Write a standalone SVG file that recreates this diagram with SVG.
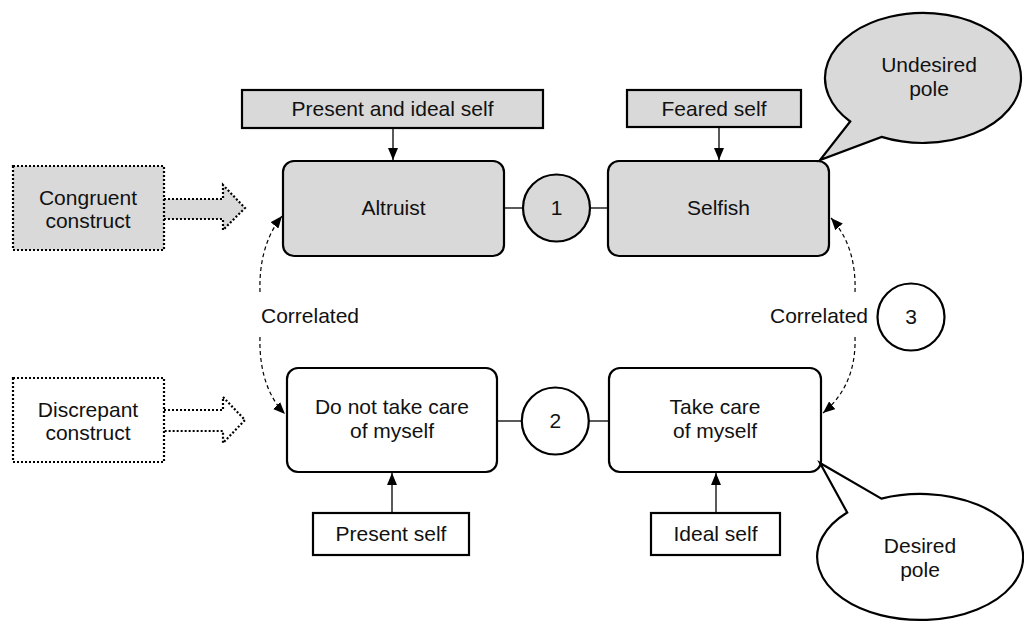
<svg xmlns="http://www.w3.org/2000/svg" width="1024" height="622" viewBox="0 0 1024 622">
<style>
  text { font-family: "Liberation Sans", Arial, sans-serif; font-size: 21px; fill: #111; text-anchor: middle; }
  .box { stroke: #000; stroke-width: 2.2; }
  .gray { fill: #d9d9d9; }
  .white { fill: #fff; }
  .dot { stroke: #000; stroke-width: 2.2; stroke-dasharray: 2 2; }
  .line { stroke: #000; stroke-width: 1.3; fill: none; }
  .dash { stroke: #000; stroke-width: 1.2; fill: none; stroke-dasharray: 4 3; }
</style>
<defs>
  <marker id="ah" viewBox="0 0 12 10" refX="12" refY="5" markerWidth="12" markerHeight="10" markerUnits="userSpaceOnUse" orient="auto">
    <path d="M0,0 L12,5 L0,10 Z" fill="#000"/>
  </marker>
</defs>
<rect width="1024" height="622" fill="#fff"/>

<g id="connectors">
  <line class="line" x1="393" y1="128" x2="393" y2="160" marker-end="url(#ah)"/>
  <line class="line" x1="719" y1="127" x2="719" y2="160" marker-end="url(#ah)"/>
  <line class="line" x1="392" y1="513" x2="392" y2="473" marker-end="url(#ah)"/>
  <line class="line" x1="716" y1="513" x2="716" y2="473" marker-end="url(#ah)"/>
  <line class="line" x1="504" y1="208" x2="523" y2="208"/>
  <line class="line" x1="590" y1="208" x2="608" y2="208"/>
  <line class="line" x1="497" y1="421" x2="521" y2="421"/>
  <line class="line" x1="589" y1="421" x2="609" y2="421"/>
  <path class="dash" d="M260,292 C259,262 266,236 282,216" marker-end="url(#ah)"/>
  <path class="dash" d="M260,337 C259,368 267,396 285,414" marker-end="url(#ah)"/>
  <path class="dash" d="M855,292 C856,263 849,238 831,218" marker-end="url(#ah)"/>
  <path class="dash" d="M855,337 C856,368 846,394 823,413" marker-end="url(#ah)"/>
</g>

<g id="congruent">
  <path class="dot gray" d="M164,199 L223,199 L223,185 L245,208 L223,230 L223,219 L164,219"/>
  <rect class="dot gray" x="13" y="166" width="151" height="84"/>
  <text x="88" y="205">Congruent</text>
  <text x="88" y="228">construct</text>
</g>

<g id="discrepant">
  <path class="dot white" d="M164,410 L223,410 L223,397 L245,420 L223,443 L223,431 L164,431"/>
  <rect class="dot white" x="13" y="378" width="151" height="84"/>
  <text x="88" y="417">Discrepant</text>
  <text x="88" y="440">construct</text>
</g>

<g id="present-ideal">
  <rect class="box gray" x="242" y="90" width="301" height="38"/>
  <text x="392.5" y="116">Present and ideal self</text>
</g>

<g id="feared">
  <rect class="box gray" x="627" y="90" width="174" height="37"/>
  <text x="714" y="116">Feared self</text>
</g>

<g id="altruist">
  <rect class="box gray" x="283" y="161" width="221" height="95" rx="11"/>
  <text x="393.5" y="215">Altruist</text>
</g>

<g id="selfish">
  <rect class="box gray" x="608" y="161" width="221" height="95" rx="11"/>
  <text x="718.5" y="215">Selfish</text>
</g>

<g id="c1">
  <circle class="box gray" cx="556.5" cy="208" r="33.5"/>
  <text x="556.5" y="215">1</text>
</g>

<g id="donot">
  <rect class="box white" x="287" y="368" width="210" height="104" rx="11"/>
  <text x="392" y="414">Do not take care</text>
  <text x="392" y="438">of myself</text>
</g>

<g id="takecare">
  <rect class="box white" x="609" y="368" width="212" height="104" rx="11"/>
  <text x="715" y="414">Take care</text>
  <text x="715" y="438">of myself</text>
</g>

<g id="c2">
  <circle class="box white" cx="555.3" cy="421" r="33.5"/>
  <text x="555.3" y="428">2</text>
</g>

<g id="c3">
  <circle class="box white" cx="911" cy="317" r="33.5"/>
  <text x="911" y="324">3</text>
</g>

<g id="present">
  <rect class="box white" x="313" y="513" width="156" height="42"/>
  <text x="391" y="541">Present self</text>
</g>

<g id="ideal">
  <rect class="box white" x="651" y="513" width="129" height="42"/>
  <text x="715.5" y="541">Ideal self</text>
</g>

<g id="labels">
  <text x="310" y="323">Correlated</text>
  <text x="819" y="323">Correlated</text>
</g>

<g id="undesired">
  <path class="box gray" d="M850.2,121.5 L820,160 L881.6,136.9 A98,65 0 1 0 850.2,121.5 Z"/>
  <text x="929" y="72">Undesired</text>
  <text x="929" y="96">pole</text>
</g>

<g id="desired">
  <path class="box white" d="M847.2,512.5 L820,463 L881.4,498.6 A103,63 0 1 1 847.2,512.5 Z"/>
  <text x="920" y="553">Desired</text>
  <text x="920" y="577">pole</text>
</g>
</svg>
